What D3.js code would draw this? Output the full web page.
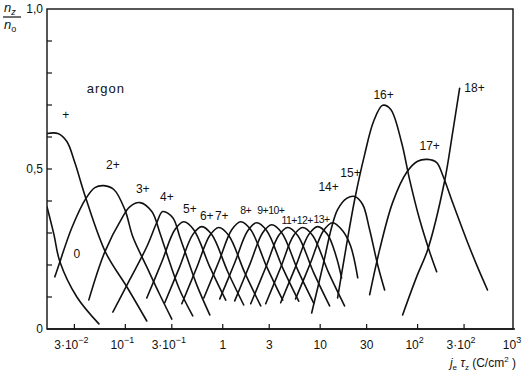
<!DOCTYPE html>
<html>
<head>
<meta charset="utf-8">
<script src="https://cdn.jsdelivr.net/npm/d3@7"></script>
<style>
  body { margin: 0; background: #fff; }
  #chart text { font-family: "Liberation Sans", "DejaVu Sans", sans-serif; fill: #111; }
</style>
</head>
<body>
<div id="chart"></div>
<script>
// charge-state fractions n_z/n_0 of argon vs. j_e*tau_z (C/cm^2)
const curve0  = [[0.0157, 0.382], [0.0185, 0.295], [0.0213, 0.210], [0.0318, 0.100], [0.0535, 0.016]];
const curve1  = [[0.0157, 0.611], [0.0203, 0.611], [0.0251, 0.586], [0.0303, 0.520], [0.0394, 0.408], [0.0631, 0.238], [0.1035, 0.132], [0.166, 0.025]];
const curve2  = [[0.0189, 0.163], [0.0213, 0.210], [0.0283, 0.317], [0.0394, 0.408], [0.0487, 0.442], [0.0602, 0.448], [0.0762, 0.436], [0.0989, 0.373], [0.1194, 0.288], [0.166, 0.194], [0.226, 0.107], [0.300, 0.031]];
const curve3  = [[0.0422, 0.091], [0.0616, 0.241], [0.0942, 0.351], [0.111, 0.382], [0.141, 0.395], [0.187, 0.367], [0.226, 0.301], [0.286, 0.207], [0.362, 0.122], [0.492, 0.041]];
const curve4  = [[0.0744, 0.053], [0.111, 0.154], [0.166, 0.257], [0.210, 0.332], [0.242, 0.367], [0.307, 0.348], [0.362, 0.288], [0.427, 0.226], [0.541, 0.138], [0.736, 0.044]];
const curve5  = [[0.166, 0.097], [0.237, 0.210], [0.322, 0.310], [0.398, 0.335], [0.504, 0.310], [0.736, 0.194], [1.073, 0.090]];
const curve6  = [[0.254, 0.082], [0.362, 0.195], [0.492, 0.295], [0.609, 0.320], [0.771, 0.295], [1.125, 0.179], [1.642, 0.075]];
const curve7  = [[0.380, 0.079], [0.541, 0.192], [0.736, 0.292], [0.910, 0.317], [1.152, 0.292], [1.682, 0.176], [2.454, 0.072]];
const curve8  = [[0.639, 0.097], [0.910, 0.210], [1.237, 0.310], [1.53, 0.335], [1.938, 0.310], [2.83, 0.194], [4.126, 0.090]];
const curve9  = [[0.932, 0.094], [1.328, 0.207], [1.805, 0.307], [2.232, 0.332], [2.83, 0.307], [4.12, 0.191], [6.02, 0.087]];
const curve10 = [[1.327, 0.088], [1.892, 0.201], [2.57, 0.301], [3.18, 0.326], [4.03, 0.301], [5.88, 0.185], [8.58, 0.081]];
const curve11 = [[1.937, 0.079], [2.76, 0.192], [3.75, 0.292], [4.64, 0.317], [5.88, 0.292], [8.57, 0.176], [12.5, 0.072]];
const curve12 = [[2.76, 0.079], [3.93, 0.192], [5.34, 0.292], [6.61, 0.317], [8.37, 0.292], [12.2, 0.176], [17.8, 0.072]];
const curve13 = [[3.93, 0.082], [5.60, 0.195], [7.62, 0.295], [9.42, 0.320], [11.9, 0.295], [14.5, 0.230], [16.6, 0.160]];
const curve14 = [[5.59, 0.094], [7.97, 0.207], [10.8, 0.307], [13.4, 0.332], [17.0, 0.307], [20.5, 0.260], [24.3, 0.160]];
const curve15 = [[8.18, 0.050], [10.6, 0.194], [13.1, 0.317], [15.1, 0.373], [18.7, 0.408], [22.6, 0.414], [27.3, 0.389], [32.2, 0.310], [38.9, 0.201], [45.9, 0.122]];
const curve16 = [[15.1, 0.097], [18.3, 0.248], [22.6, 0.404], [28.6, 0.545], [35.4, 0.649], [43.8, 0.699], [52.8, 0.687], [68.5, 0.583], [82.8, 0.467], [105, 0.342], [133, 0.241], [157, 0.179]];
const curve17 = [[32.2, 0.107], [40.8, 0.248], [55.4, 0.395], [77.1, 0.489], [100, 0.524], [127, 0.530], [157, 0.520], [180, 0.483], [229, 0.395], [318, 0.279], [412, 0.194], [522, 0.122]];
const curve18 = [[70.2, 0.044], [97.7, 0.163], [127, 0.248], [189, 0.461], [229, 0.614], [270, 0.752]];

const curves = [curve0, curve1, curve2, curve3, curve4, curve5, curve6, curve7, curve8, curve9,
                curve10, curve11, curve12, curve13, curve14, curve15, curve16, curve17, curve18];

// curve labels: text, x, y (data units); the crowded 8+..13+ row is set tighter
const labelText = ["+", "0", "2+", "3+", "4+", "5+", "6+", "7+", "8+", "9+", "10+", "11+", "12+", "13+", "14+", "15+", "16+", "17+", "18+"];
const labelX = [0.0245, 0.0318, 0.0744, 0.151, 0.267, 0.459, 0.685, 0.977, 1.72, 2.57, 3.55, 4.80, 6.95, 10.3, 12.2, 20.5, 44.8, 133, 384];
const labelY = [0.668, 0.235, 0.514, 0.439, 0.414, 0.376, 0.354, 0.354, 0.373, 0.373, 0.373, 0.342, 0.342, 0.345, 0.445, 0.489, 0.730, 0.571, 0.752];
const crowded = ["8+", "9+", "10+", "11+", "12+", "13+"];

const xTicks = [0.03, 0.1, 0.3, 1, 3, 10, 30, 100, 300, 1000];
const xTickBase = ["3·10", "10", "3·10", "1", "3", "10", "30", "10", "3·10", "10"];
const xTickExp = ["−2", "−1", "−1", "", "", "", "", "2", "2", "3"];
const yTicks = [0, 0.1, 0.2, 0.3, 0.4, 0.5, 0.6, 0.7, 0.8, 0.9, 1.0];
const yTickLabels = { 0: "0", 0.5: "0,5", 1: "1,0" };

const width = 522, height = 375;
const svg = d3.select("#chart").append("svg")
    .attr("width", width)
    .attr("height", height);

const x = d3.scaleLog().domain([0.0157, 1000]).range([47, 515]);
const y = d3.scaleLinear().domain([0, 1]).range([329, 9]);
const right = 513;

// frame
const ink = "#111";
svg.append("rect")
    .attr("x", x.range()[0]).attr("y", y(1))
    .attr("width", right - x.range()[0]).attr("height", y(0) - y(1))
    .attr("fill", "none").attr("stroke", ink).attr("stroke-width", 1.4);
svg.append("line")
    .attr("x1", x.range()[0]).attr("x2", x.range()[1])
    .attr("y1", y(0)).attr("y2", y(0))
    .attr("stroke", ink).attr("stroke-width", 1.6);

// ticks (inside)
svg.append("g").selectAll("line")
    .data(xTicks.slice(0, -1))
    .join("line")
    .attr("x1", d => x(d)).attr("x2", d => x(d))
    .attr("y1", y(0)).attr("y2", y(0) - 5)
    .attr("stroke", ink).attr("stroke-width", 1.2);

svg.append("g").selectAll("line")
    .data(yTicks.slice(1, -1))
    .join("line")
    .attr("x1", x.range()[0]).attr("x2", x.range()[0] + 5)
    .attr("y1", d => y(d)).attr("y2", d => y(d))
    .attr("stroke", ink).attr("stroke-width", 1.2);

// x tick labels
const xl = svg.append("g").selectAll("text")
    .data(xTicks)
    .join("text")
    .attr("x", (d, i) => x(d) + (xTickExp[i] ? -3 : 0))
    .attr("y", 349)
    .attr("text-anchor", "middle")
    .style("font-size", "12px");
xl.append("tspan").text((d, i) => xTickBase[i]);
xl.append("tspan")
    .attr("dy", -6)
    .style("font-size", "9px")
    .text((d, i) => xTickExp[i]);

// y tick labels
svg.append("g").selectAll("text")
    .data([0, 0.5, 1])
    .join("text")
    .attr("x", 43)
    .attr("y", d => y(d) + 4)
    .attr("text-anchor", "end")
    .style("font-size", "12px")
    .text(d => yTickLabels[d]);

// y axis title n_z / n_o
const yt = svg.append("g");
yt.append("text").attr("x", 4).attr("y", 12).style("font-size", "13px").style("font-style", "italic")
    .text("n").append("tspan").attr("dy", 3).style("font-size", "9px").text("z");
yt.append("line").attr("x1", 3).attr("x2", 21).attr("y1", 17).attr("y2", 17)
    .attr("stroke", ink).attr("stroke-width", 1.2);
yt.append("text").attr("x", 4).attr("y", 29).style("font-size", "13px").style("font-style", "italic")
    .text("n").append("tspan").attr("dy", 3).style("font-size", "9px").style("font-style", "normal").text("o");

// x axis title
const xt = svg.append("text").attr("x", 516).attr("y", 367).attr("text-anchor", "end").style("font-size", "12px");
xt.append("tspan").style("font-style", "italic").text("j");
xt.append("tspan").attr("dy", 3).style("font-size", "8px").text("e");
xt.append("tspan").attr("dy", -3).style("font-style", "italic").text(" τ");
xt.append("tspan").attr("dy", 3).style("font-size", "8px").text("z");
xt.append("tspan").attr("dy", -3).text(" (C/cm");
xt.append("tspan").attr("dy", -5).style("font-size", "8px").text("2");
xt.append("tspan").attr("dy", 5).text(" )");

// curves
svg.append("clipPath").attr("id", "plot-clip")
    .append("rect")
    .attr("x", x.range()[0]).attr("y", y(1))
    .attr("width", right - x.range()[0]).attr("height", y(0) - y(1));

const line = d3.line()
    .x(d => x(d[0]))
    .y(d => y(d[1]))
    .curve(d3.curveCatmullRom.alpha(0.5));

svg.append("g")
    .attr("clip-path", "url(#plot-clip)")
    .selectAll("path")
    .data(curves)
    .join("path")
    .attr("d", line)
    .attr("fill", "none")
    .attr("stroke", ink)
    .attr("stroke-width", 1.6)
    .attr("stroke-linecap", "round");

// labels
svg.append("g").selectAll("text")
    .data(labelText)
    .join("text")
    .attr("x", (d, i) => x(labelX[i]))
    .attr("y", (d, i) => y(labelY[i]) + 4)
    .attr("text-anchor", "middle")
    .style("font-size", d => crowded.includes(d) ? "10.5px" : "12px")
    .style("letter-spacing", d => crowded.includes(d) ? "-0.6px" : "0px")
    .text(d => d);

svg.append("text")
    .attr("x", x(0.0631)).attr("y", y(0.749) + 4)
    .attr("text-anchor", "middle")
    .style("font-size", "13px")
    .style("letter-spacing", "1px")
    .text("argon");
</script>
</body>
</html>
